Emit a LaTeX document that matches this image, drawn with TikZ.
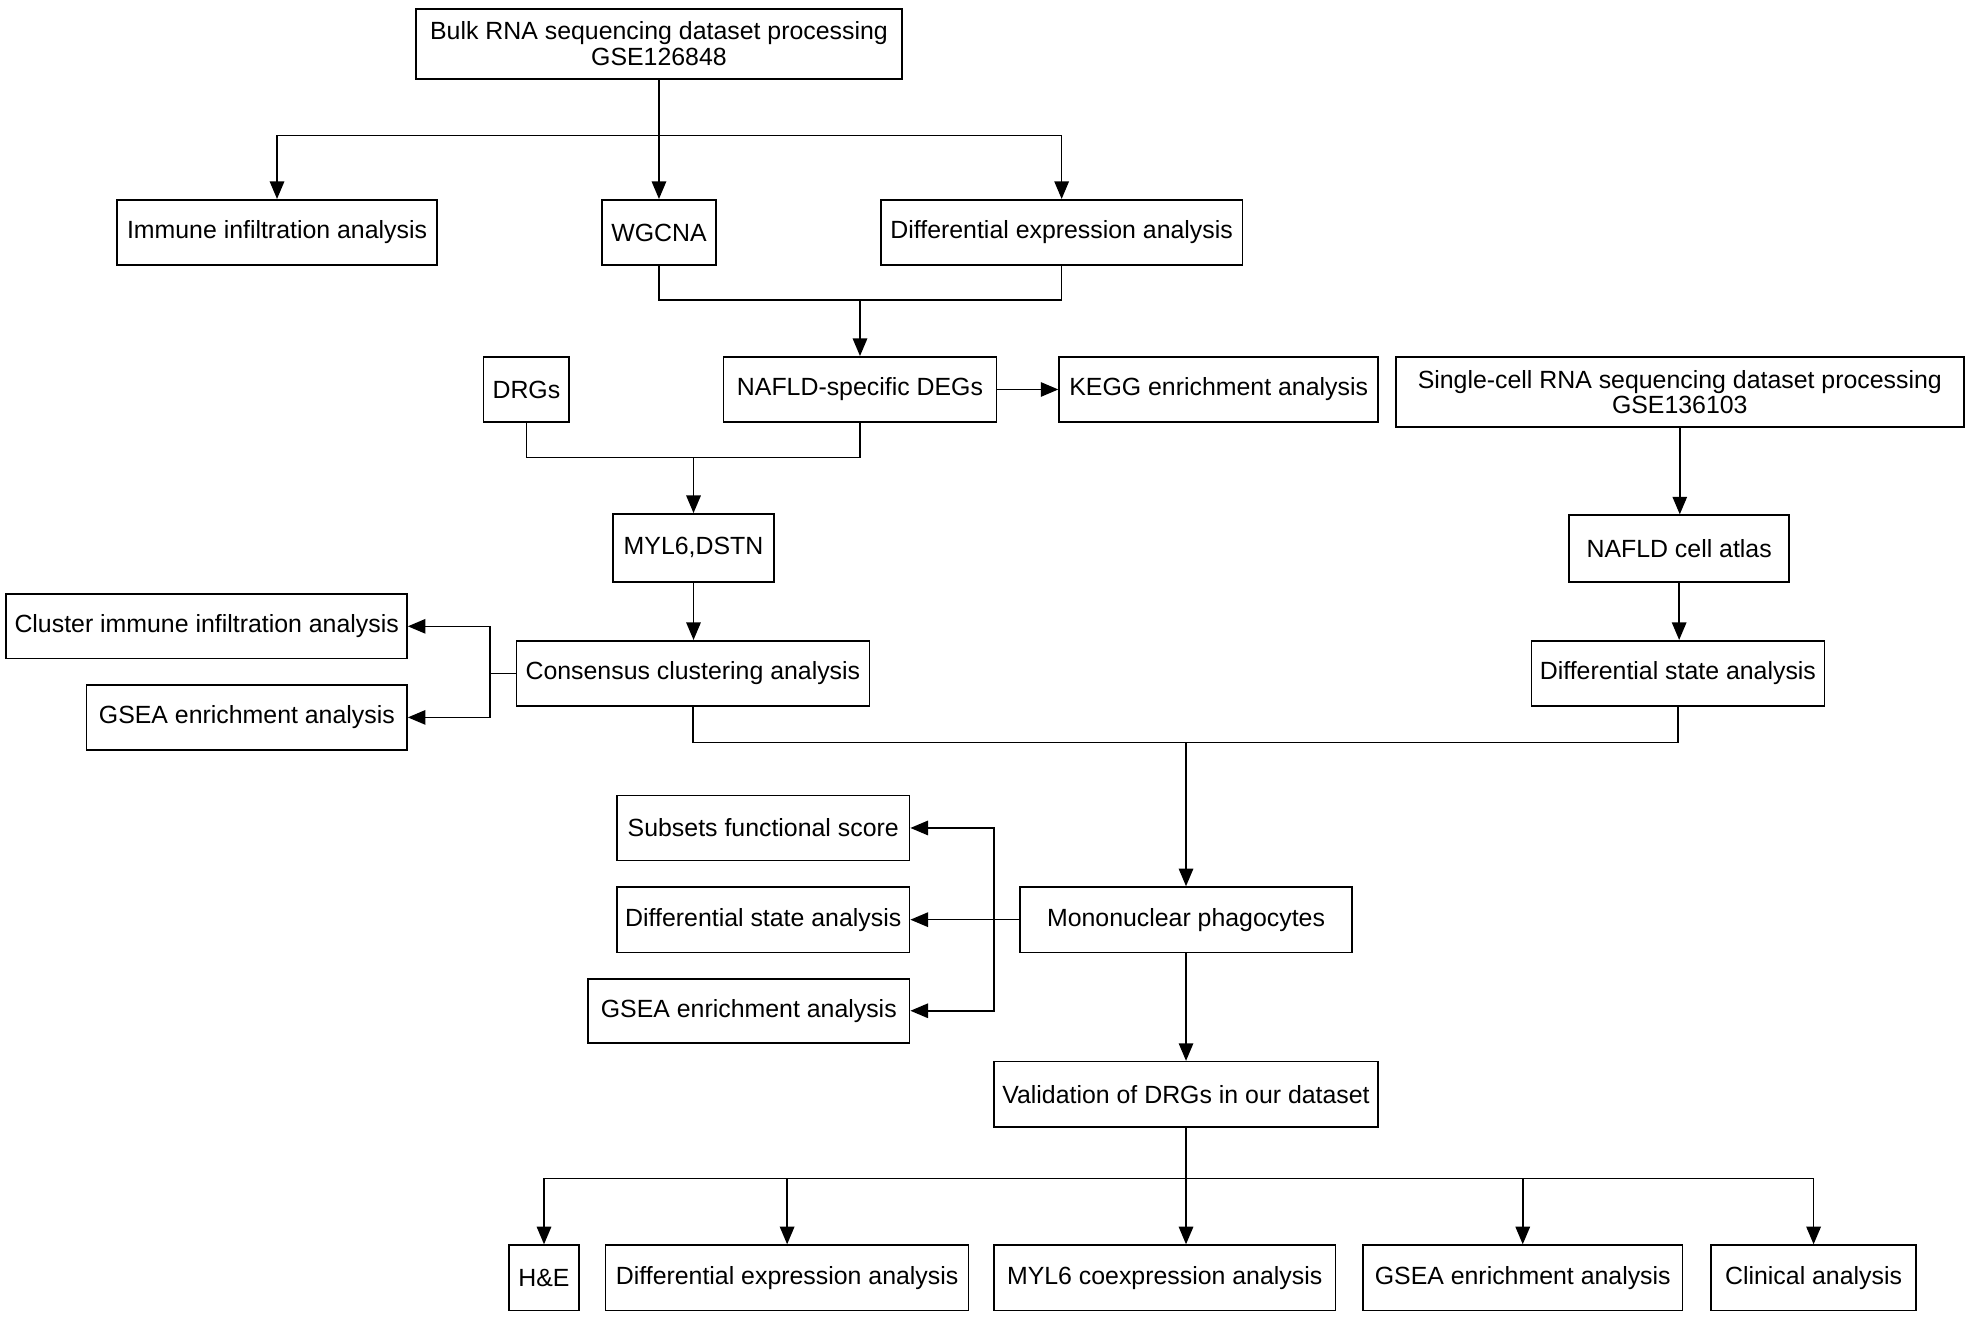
\documentclass[tikz,border=0pt]{standalone}
\usepackage{fontspec}
\setmainfont{Liberation Sans}
\usetikzlibrary{arrows.meta}
\begin{document}
\begin{tikzpicture}[x=1pt,y=-1pt,
  box/.style={draw=black,line width=1.25pt,rectangle,inner sep=0pt,align=center,font=\fontsize{19.8}{20.5}\selectfont,text=black},
  ln/.style={draw=black,line width=1.25pt},
  arr/.style={ln,-{Triangle[length=14pt,width=11.5pt]}}]
\useasboundingbox (0,0) rectangle (1568,1050);
\fill[white] (0,0) rectangle (1568,1050);
% nodes
\node[box,minimum width=387pt,minimum height=56pt] (bulk) at (524.5,35) {Bulk RNA sequencing dataset processing\\GSE126848};
\node[box,minimum width=255pt,minimum height=52pt] (imm) at (220.5,185) {Immune infiltration analysis};
\node[box,minimum width=91pt,minimum height=52pt] (wgcna) at (524.5,185) {WGCNA};
\node[box,minimum width=288pt,minimum height=52pt] (dea) at (845,185) {Differential expression analysis};
\node[box,minimum width=68pt,minimum height=52pt] (drgs) at (419,310) {DRGs};
\node[box,minimum width=217pt,minimum height=52pt] (nafld) at (684.5,310) {NAFLD-specific DEGs};
\node[box,minimum width=254pt,minimum height=52pt] (kegg) at (970,310) {KEGG enrichment analysis};
\node[box,minimum width=452pt,minimum height=56pt] (sc) at (1337,312) {Single-cell RNA sequencing dataset processing\\GSE136103};
\node[box,minimum width=128pt,minimum height=54pt] (myl) at (552,436) {MYL6,DSTN};
\node[box,minimum width=281pt,minimum height=52pt] (cons) at (551.5,536) {Consensus clustering analysis};
\node[box,minimum width=319pt,minimum height=51pt] (clus) at (164.5,498.5) {Cluster immune infiltration analysis};
\node[box,minimum width=255pt,minimum height=52pt] (gseaL) at (196.5,571) {GSEA enrichment analysis};
\node[box,minimum width=175pt,minimum height=53pt] (atlas) at (1336.5,436.5) {NAFLD cell atlas};
\node[box,minimum width=233pt,minimum height=52pt] (dsR) at (1335.5,536) {Differential state analysis};
\node[box,minimum width=264pt,minimum height=52pt] (mono) at (944,732) {Mononuclear phagocytes};
\node[box,minimum width=233pt,minimum height=52pt] (sub) at (607.5,659) {Subsets functional score};
\node[box,minimum width=233pt,minimum height=52pt] (dsM) at (607.5,732) {Differential state analysis};
\node[box,minimum width=256pt,minimum height=51pt] (gseaM) at (596,804.5) {GSEA enrichment analysis};
\node[box,minimum width=306pt,minimum height=52pt] (val) at (944,871) {Validation of DRGs in our dataset};
\node[box,minimum width=56pt,minimum height=52pt] (he) at (433,1017) {H\&E};
\node[box,minimum width=289pt,minimum height=52pt] (deaB) at (626.5,1017) {Differential expression analysis};
\node[box,minimum width=272pt,minimum height=52pt] (myco) at (927,1017) {MYL6 coexpression analysis};
\node[box,minimum width=254pt,minimum height=52pt] (gseaB) at (1212,1017) {GSEA enrichment analysis};
\node[box,minimum width=163pt,minimum height=52pt] (clin) at (1443.5,1017) {Clinical analysis};
% junctions
\coordinate (j1) at (524.5,108);
\coordinate (j2) at (684.5,239);
\coordinate (j3) at (552,364);
\coordinate (j4) at (390,536);
\coordinate (j5) at (944,591);
\coordinate (j6) at (791,732);
\coordinate (j7) at (944,938);
% connectors
\draw[arr] (bulk.south) -- (wgcna.north);
\draw[arr] (j1) -| (imm.north);
\draw[arr] (j1) -| (dea.north);
\draw[ln] (wgcna.south) |- (j2);
\draw[ln] (dea.south) |- (j2);
\draw[arr] (j2) -- (nafld.north);
\draw[arr] (nafld.east) -- (kegg.west);
\draw[ln] (drgs.south) |- (j3);
\draw[ln] (nafld.south) |- (j3);
\draw[arr] (j3) -- (myl.north);
\draw[arr] (myl.south) -- (myl.south |- cons.north);
\draw[ln] (cons.west) -- (j4);
\draw[arr] (j4) |- (clus.east);
\draw[arr] (j4) |- (gseaL.east);
\draw[arr] (sc.south) -- (sc.south |- atlas.north);
\draw[arr] (atlas.south) -- (atlas.south |- dsR.north);
\draw[ln] (cons.south) |- (j5);
\draw[ln] (dsR.south) |- (j5);
\draw[arr] (j5) -- (mono.north);
\draw[arr] (mono.west) -- (dsM.east);
\draw[arr] (j6) |- (sub.east);
\draw[arr] (j6) |- (gseaM.east);
\draw[arr] (mono.south) -- (val.north);
\draw[ln] (val.south) -- (j7);
\draw[arr] (j7) -| (he.north);
\draw[arr] (j7) -| (deaB.north);
\draw[arr] (j7) -- (j7 |- myco.north);
\draw[arr] (j7) -| (gseaB.north);
\draw[arr] (j7) -| (clin.north);
\end{tikzpicture}
\end{document}
